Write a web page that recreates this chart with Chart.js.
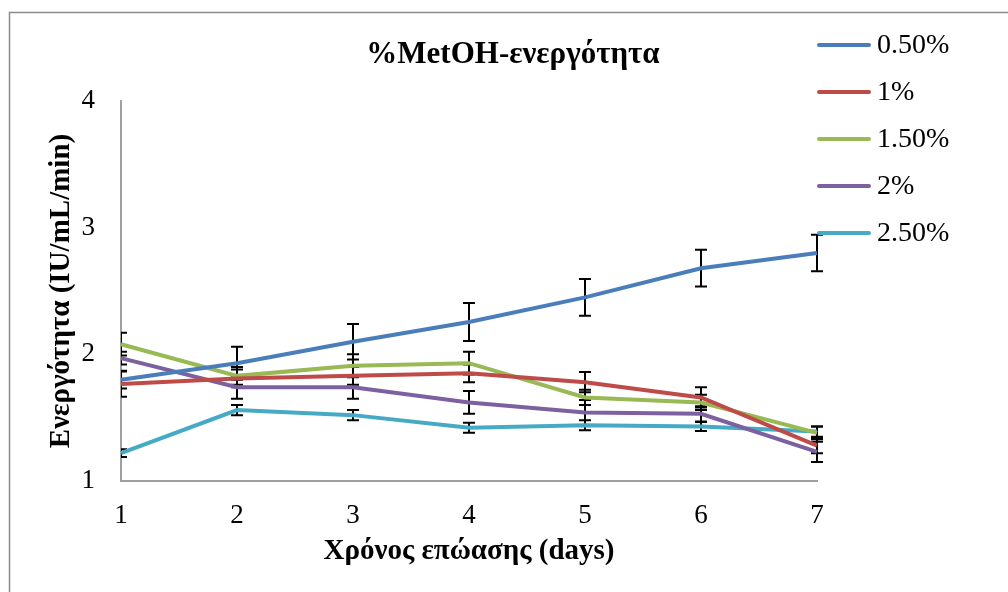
<!DOCTYPE html>
<html>
<head>
<meta charset="utf-8">
<script src="https://cdn.jsdelivr.net/npm/chart.js@4"></script>
<style>
html,body{margin:0;padding:0;background:#fff;}
#wrap{width:1008px;height:592px;position:relative;}
</style>
</head>
<body>
<div id="wrap"><canvas id="c" width="1008" height="592"></canvas></div>
<script>
const days = [1, 2, 3, 4, 5, 6, 7];
const seriesLabels = ['0.50%', '1%', '1.50%', '2%', '2.50%'];
const v050 = [1.80, 1.93, 2.10, 2.255, 2.45, 2.68, 2.80];
const v100 = [1.765, 1.81, 1.83, 1.85, 1.78, 1.66, 1.28];
const v150 = [2.08, 1.83, 1.91, 1.93, 1.66, 1.62, 1.38];
const v200 = [1.97, 1.74, 1.74, 1.62, 1.54, 1.53, 1.23];
const v250 = [1.22, 1.56, 1.52, 1.42, 1.44, 1.43, 1.39];
const e050 = [0.07, 0.13, 0.14, 0.15, 0.145, 0.145, 0.145];
const e100 = [0.10, 0.07, 0.07, 0.07, 0.08, 0.08, 0.06];
const e150 = [0.09, 0.07, 0.09, 0.09, 0.06, 0.06, 0.05];
const e200 = [0.05, 0.09, 0.09, 0.09, 0.10, 0.06, 0.08];
const e250 = [0.03, 0.04, 0.04, 0.04, 0.04, 0.035, 0.04];
const yTicks = [1, 2, 3, 4];
const chartTitle = '%MetOH-ενεργότητα';
const xTitle = 'Χρόνος επώασης (days)';
const yTitle = 'Ενεργότητα (IU/mL/min)';

const colors = ['#4a7ebb', '#be4b48', '#98b954', '#7d60a0', '#46aac5'];
const values = [v050, v100, v150, v200, v250];
const errors = [e050, e100, e150, e200, e250];
const FONT = "'Liberation Serif', 'DejaVu Serif', serif";

const datasets = values.map((vals, i) => ({
  label: seriesLabels[i],
  data: vals.map((v, j) => ({x: days[j], y: v})),
  borderColor: colors[i],
  backgroundColor: colors[i],
  borderWidth: 4,
  pointRadius: 0,
  tension: 0,
  errors: errors[i],
  clip: false
}));

const framePlugin = {
  id: 'frame',
  beforeDraw(chart) {
    const ctx = chart.ctx;
    ctx.save();
    ctx.fillStyle = '#fff';
    ctx.fillRect(0, 0, chart.width, chart.height);
    ctx.strokeStyle = '#8c8c8c';
    ctx.lineWidth = 1.5;
    ctx.beginPath();
    ctx.moveTo(9.5, chart.height + 5);
    ctx.lineTo(9.5, 12.5);
    ctx.lineTo(chart.width + 5, 12.5);
    ctx.stroke();
    ctx.restore();
  }
};

const errorPlugin = {
  id: 'errbars',
  beforeDatasetsDraw(chart) {
    const ctx = chart.ctx;
    const xs = chart.scales.x, ys = chart.scales.y;
    const area = chart.chartArea;
    ctx.save();
    ctx.beginPath();
    ctx.rect(area.left, 0, chart.width - area.left, chart.height);
    ctx.clip();
    ctx.strokeStyle = '#000';
    ctx.lineWidth = 2;
    chart.data.datasets.forEach(ds => {
      ds.data.forEach((p, j) => {
        const e = ds.errors[j];
        const px = xs.getPixelForValue(p.x);
        const y1 = ys.getPixelForValue(p.y + e);
        const y2 = ys.getPixelForValue(p.y - e);
        ctx.beginPath();
        ctx.moveTo(px, y1); ctx.lineTo(px, y2);
        ctx.moveTo(px - 6, y1); ctx.lineTo(px + 6, y1);
        ctx.moveTo(px - 6, y2); ctx.lineTo(px + 6, y2);
        ctx.stroke();
      });
    });
    ctx.restore();
  }
};

const titleLegendPlugin = {
  id: 'titleLegend',
  afterDraw(chart) {
    const ctx = chart.ctx;
    ctx.save();
    ctx.fillStyle = '#000';
    ctx.font = "bold 31px " + FONT;
    ctx.textAlign = 'center';
    ctx.textBaseline = 'middle';
    ctx.fillText(chartTitle, 513, 55);
    ctx.font = "28px " + FONT;
    ctx.textAlign = 'left';
    chart.data.datasets.forEach((ds, i) => {
      const y = 45 + i * 47;
      ctx.strokeStyle = ds.borderColor;
      ctx.lineWidth = 4;
      ctx.lineCap = 'round';
      ctx.beginPath();
      ctx.moveTo(819, y); ctx.lineTo(869, y);
      ctx.stroke();
      ctx.fillStyle = '#000';
      ctx.fillText(ds.label, 877, y + 1);
    });
    ctx.restore();
  }
};

new Chart(document.getElementById('c'), {
  type: 'line',
  data: { datasets },
  options: {
    responsive: false,
    animation: false,
    devicePixelRatio: 1,
    layout: { padding: { left: 44, right: 191, top: 101, bottom: 0 } },
    plugins: { legend: { display: false }, title: { display: false }, tooltip: { enabled: false } },
    scales: {
      x: {
        type: 'linear', min: 1, max: 7,
        afterFit(s) { s.height = 111; },
        afterBuildTicks(s) { s.ticks = days.map(d => ({value: d})); },
        grid: { display: false, drawTicks: false },
        border: { display: true, color: '#a0a0a0', width: 2 },
        ticks: { color: '#000', font: { family: FONT, size: 27 }, padding: 19, maxRotation: 0 },
        title: { display: true, text: xTitle, color: '#000', font: { family: FONT, size: 29, weight: 'bold' }, padding: { top: 0, bottom: 23 } }
      },
      y: {
        type: 'linear', min: 1, max: 4,
        afterFit(s) { s.width = 121 - 44; },
        afterBuildTicks(s) { s.ticks = yTicks.map(v => ({value: v})); },
        grid: { display: false, drawTicks: false },
        border: { display: true, color: '#a0a0a0', width: 2 },
        ticks: { color: '#000', font: { family: FONT, size: 27 }, padding: 26 },
        title: { display: true, text: yTitle, color: '#000', font: { family: FONT, size: 29, weight: 'bold' }, padding: { top: 0, bottom: 0 } }
      }
    }
  },
  plugins: [framePlugin, errorPlugin, titleLegendPlugin]
});
</script>
</body>
</html>
